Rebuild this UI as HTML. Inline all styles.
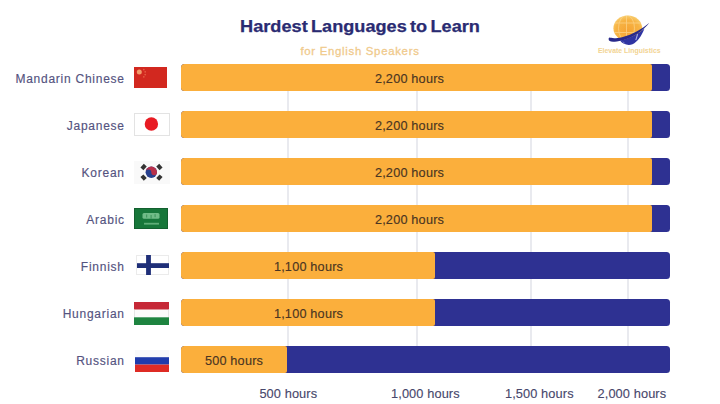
<!DOCTYPE html>
<html><head><meta charset="utf-8"><style>
html,body{margin:0;padding:0;background:#fff;}
body{width:720px;height:404px;position:relative;overflow:hidden;font-family:"Liberation Sans",sans-serif;}
.title{position:absolute;left:0;width:720px;top:17px;text-align:center;font-weight:bold;font-size:16.5px;color:#2a2b72;}
.title span{display:inline-block;transform:scaleX(1.1);word-spacing:-1.6px;-webkit-text-stroke:0.25px #2a2b72;}
.sub{position:absolute;left:0;width:720px;top:45px;text-align:center;font-size:11.4px;color:#f0ca8c;letter-spacing:0.7px;-webkit-text-stroke:0.3px #f0ca8c;}
.lang{position:absolute;left:0;width:124.8px;height:27px;line-height:31px;text-align:right;font-size:12px;color:#545380;letter-spacing:0.75px;-webkit-text-stroke:0.15px #545380;}
.bar{position:absolute;left:181px;width:489px;height:27.4px;background:#2e3192;border-radius:3.5px;overflow:hidden;}
.or{position:absolute;left:0;top:0;height:100%;background:#fbaf3c;border-radius:0 2px 2px 0;}
.bl{position:absolute;width:200px;height:27px;line-height:31.4px;text-align:center;font-size:12.7px;color:#4a3522;letter-spacing:0.2px;-webkit-text-stroke:0.15px #4a3522;}
.ax{position:absolute;top:385.5px;width:120px;text-align:center;font-size:12.8px;color:#47476b;letter-spacing:0.1px;-webkit-text-stroke:0.12px #47476b;}
</style></head><body>
<div class="title"><span>Hardest Languages to Learn</span></div>
<div class="sub">for English Speakers</div>
<svg style="position:absolute;left:600px;top:8px;overflow:visible" width="64" height="50" viewBox="0 0 64 50">
<defs><clipPath id="gc"><ellipse cx="27.8" cy="20.2" rx="14.4" ry="12.8"/></clipPath>
<radialGradient id="gg" cx="0.5" cy="0.6" r="0.6"><stop offset="0" stop-color="#f6a435"/><stop offset="0.7" stop-color="#f7b445"/><stop offset="1" stop-color="#f8cd6e"/></radialGradient></defs>
<ellipse cx="27.8" cy="20.2" rx="14.4" ry="12.8" fill="url(#gg)"/>
<g clip-path="url(#gc)" stroke="#fcd995" stroke-width="0.9" fill="none" opacity="0.7">
<ellipse cx="26.5" cy="20.2" rx="8" ry="13"/><line x1="26.5" y1="7" x2="26.5" y2="34"/><line x1="13" y1="15" x2="43" y2="15"/><line x1="13" y1="24.5" x2="43" y2="24.5"/>
</g>
<path d="M8.6 31 C 8.6 34.2, 13 34.4, 22 32.4 C 33 29.8, 43 23, 49.4 14.8 C 42 21, 33 26.6, 22 29.2 C 15 30.8, 11 30, 9.5 29.6 C 8.9 29.9, 8.6 30.4, 8.6 31 Z" fill="#28298a"/>
<path d="M20 32.6 C 23 36.6, 28.5 37.8, 32.5 36.2 C 37.5 34, 41.5 28, 44.5 20.5 C 38 26, 30 30.4, 20 32.6 Z" fill="#2f34a2"/>
<path d="M37.6 26.2 L 35.8 32.2" stroke="#c9cdf2" stroke-width="1.1" opacity="0.8"/>
<path d="M23 33.6 L 24.6 35.4" stroke="#c9cdf2" stroke-width="0.9" opacity="0.6"/>
<text x="-2" y="44.8" textLength="62.6" lengthAdjust="spacingAndGlyphs" font-family="Liberation Sans" font-weight="bold" font-size="6.7" fill="#f2d493">Elevate Linguistics</text>
</svg>
<div style="position:absolute;left:287px;top:64px;width:2px;height:309.4px;background:#e9eaef"></div><div style="position:absolute;left:416px;top:64px;width:2px;height:309.4px;background:#e9eaef"></div><div style="position:absolute;left:530px;top:64px;width:2px;height:309.4px;background:#e9eaef"></div><div style="position:absolute;left:627px;top:64px;width:2px;height:309.4px;background:#e9eaef"></div><div class="lang" style="top:64px">Mandarin Chinese</div><svg style="position:absolute;left:134px;top:67px" width="33" height="21" viewBox="0 0 33 21"><rect width="33" height="21" fill="#d2281f"/><circle cx="5.3" cy="5" r="2.5" fill="#f29a6a"/><circle cx="9.8" cy="2.6" r="0.9" fill="#e8684a" opacity="0.8"/><circle cx="11.2" cy="4.8" r="0.9" fill="#e8684a" opacity="0.8"/><circle cx="11.2" cy="7.6" r="0.9" fill="#e8684a" opacity="0.8"/><circle cx="9.8" cy="9.8" r="0.9" fill="#e8684a" opacity="0.8"/></svg><div class="bar" style="top:64px"><div class="or" style="width:471px"></div></div><div class="bl" style="top:64px;left:309.5px">2,200 hours</div><div class="lang" style="top:111px">Japanese</div><svg style="position:absolute;left:134px;top:112.5px" width="36" height="23" viewBox="0 0 36 23"><rect x="0.5" y="0.5" width="35" height="22" fill="#fff" stroke="#e3e3e3"/><circle cx="17.4" cy="11" r="6.7" fill="#e81b23"/></svg><div class="bar" style="top:111px"><div class="or" style="width:471px"></div></div><div class="bl" style="top:111px;left:309.5px">2,200 hours</div><div class="lang" style="top:158px">Korean</div><svg style="position:absolute;left:134px;top:161px" width="36" height="23" viewBox="0 0 36 23"><rect x="0" y="0" width="36" height="23" fill="#f9f9f9"/><circle cx="17.3" cy="11.3" r="5.7" fill="#27408e"/><path d="M11.6 11.3 A5.7 5.7 0 0 1 23 11.3 A2.85 2.85 0 0 1 17.3 11.3 A2.85 2.85 0 0 0 11.6 11.3 Z" fill="#b8304a"/><g fill="#333"><rect x="-2.5" y="-2" width="5" height="4" transform="translate(9.6 6) rotate(-48)"/><rect x="-2.5" y="-2" width="5" height="4" transform="translate(25.4 6) rotate(48)"/><rect x="-2.5" y="-2" width="5" height="4" transform="translate(9.6 16.6) rotate(48)"/><rect x="-2.5" y="-2" width="5" height="4" transform="translate(25.4 16.6) rotate(-48)"/></g></svg><div class="bar" style="top:158px"><div class="or" style="width:471px"></div></div><div class="bl" style="top:158px;left:309.5px">2,200 hours</div><div class="lang" style="top:205px">Arabic</div><svg style="position:absolute;left:134px;top:208px" width="34" height="21" viewBox="0 0 34 21"><rect width="34" height="21" fill="#17773a"/><rect x="0.5" y="0.5" width="33" height="20" fill="none" stroke="#13602f" stroke-width="1"/><g fill="#8fd3a2" opacity="0.75"><rect x="8.5" y="5" width="17" height="5.8" rx="1.5"/></g><g fill="#17773a" opacity="0.5"><rect x="12" y="6.5" width="1.2" height="3"/><rect x="16.5" y="7" width="1.2" height="3.5"/><rect x="20.5" y="6.2" width="1.2" height="3"/></g><rect x="10" y="14.8" width="15" height="1.8" fill="#8fd3a2" opacity="0.6"/></svg><div class="bar" style="top:205px"><div class="or" style="width:471px"></div></div><div class="bl" style="top:205px;left:309.5px">2,200 hours</div><div class="lang" style="top:252px">Finnish</div><svg style="position:absolute;left:135.5px;top:255.2px" width="33" height="20" viewBox="0 0 33 20"><rect x="0.5" y="0.5" width="32" height="19" fill="#fff" stroke="#ebebeb"/><rect x="10.1" y="0" width="4.8" height="20" fill="#1f2f78"/><rect x="1" y="8.2" width="32" height="4.8" fill="#1f2f78"/></svg><div class="bar" style="top:252px"><div class="or" style="width:254px"></div></div><div class="bl" style="top:252px;left:208.5px">1,100 hours</div><div class="lang" style="top:299px">Hungarian</div><svg style="position:absolute;left:134px;top:301.5px" width="35" height="23" viewBox="0 0 35 23"><rect width="35" height="7.7" fill="#c62837"/><rect y="7.7" width="35" height="7.6" fill="#fbfbfb"/><rect x="0" y="7.7" width="0.8" height="7.6" fill="#e0e0e0"/><rect x="34.2" y="7.7" width="0.8" height="7.6" fill="#e0e0e0"/><rect y="15.3" width="35" height="7.7" fill="#1e8440"/></svg><div class="bar" style="top:299px"><div class="or" style="width:254px"></div></div><div class="bl" style="top:299px;left:208.5px">1,100 hours</div><div class="lang" style="top:346px">Russian</div><svg style="position:absolute;left:134.5px;top:349.5px" width="34.5" height="22" viewBox="0 0 34.5 22"><rect width="34.5" height="7.2" fill="#f8f9fb"/><rect y="7.2" width="34.5" height="7.4" fill="#1f3bab"/><rect y="14.6" width="34.5" height="7.4" fill="#de2b24"/></svg><div class="bar" style="top:346px"><div class="or" style="width:106px"></div></div><div class="bl" style="top:346px;left:134px">500 hours</div><div class="ax" style="left:228.3px">500 hours</div><div class="ax" style="left:365.4px">1,000 hours</div><div class="ax" style="left:479.29999999999995px">1,500 hours</div><div class="ax" style="left:571.9px">2,000 hours</div>
</body></html>
